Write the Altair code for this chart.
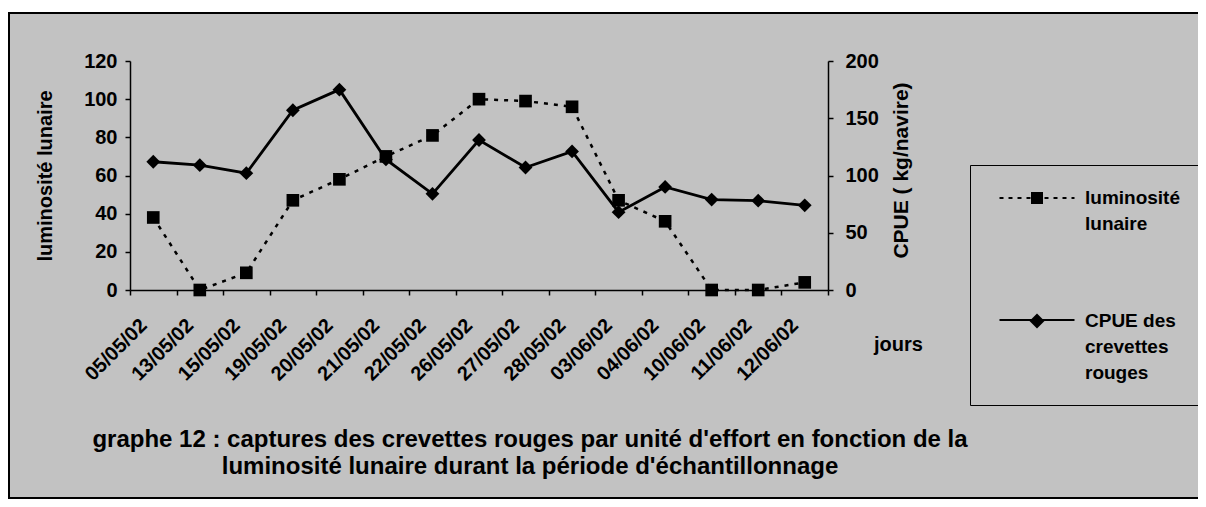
import altair as alt
import pandas as pd

# ---------------- data ----------------
jours = ["05/05/02", "13/05/02", "15/05/02", "19/05/02", "20/05/02", "21/05/02",
         "22/05/02", "26/05/02", "27/05/02", "28/05/02", "03/06/02", "04/06/02",
         "10/06/02", "11/06/02", "12/06/02"]
luminosite = [38, 0, 9, 47, 58, 70, 81, 100, 99, 96, 47, 36, 0, 0, 4]
cpue = [112, 109, 102, 157, 175, 114, 84, 131, 107, 121, 68, 90, 79, 78, 74]
series = ["luminosité   |lunaire", "CPUE des|crevettes|rouges"]
series_l = ["luminosité   |lunaire ", "CPUE des|crevettes|rouges "]
lum_ticks = [0, 20, 40, 60, 80, 100, 120]
cpue_ticks = [0, 50, 100, 150, 200]

title_lines = ["graphe 12 : captures des crevettes rouges par unité d'effort  en fonction de la",
               "luminosité lunaire durant la période d'échantillonnage"]

df_lum = pd.DataFrame({"jour": jours, "val": luminosite})
df_cpue = pd.DataFrame({"jour": jours, "val": cpue})
df_leg = pd.DataFrame({"jour": jours[:2], "serie": series, "serie_l": series_l, "val": [0, 0]})

FONT = "Liberation Sans"
BG = "#c2c2c2"
W, H = 698, 229

# custom legend symbols
path_lum = "M-0.6,-0.6H0.6V0.6H-0.6Z"
path_cpue = "M0,-0.75L0.75,0L0,0.75L-0.75,0Z"
path_line = "M-3.75,0H3.75"

x_enc = alt.X(
    "jour:N", sort=jours,
    scale=alt.Scale(type="band", paddingInner=0, paddingOuter=0),
    axis=alt.Axis(
        title="jours", titleX=768, titleY=54, titleAlign="center", titleBaseline="middle",
        titleAngle=0, titleFont=FONT, titleFontSize=20, titleFontWeight="bold", titleColor="black",
        labelAngle=-45, labelAlign="right", labelBaseline="middle",
        labelPadding=27, labelOffset=-10, labelFont=FONT, labelFontSize=20,
        labelFontWeight="bold", labelColor="black", labelOverlap=False,
        tickBand="extent", tickSize=5, tickColor="black", tickWidth=1.5,
        domainColor="black", domainWidth=1.5, grid=False, zindex=1,
    ),
)

# frame (decoration)
frame = alt.Chart(pd.DataFrame({"a": [0]})).mark_rect(
    fill=BG, stroke="black", strokeWidth=2
).encode(x=alt.value(-121), x2=alt.value(1100), y=alt.value(-48), y2=alt.value(437))

y_lum = alt.Y(
    "val:Q", scale=alt.Scale(domain=[0, 120], nice=False),
    axis=alt.Axis(
        orient="left", values=lum_ticks, title="luminosité lunaire",
        titleFont=FONT, titleFontSize=20, titleFontWeight="bold", titleColor="black",
        titlePadding=28, labelFont=FONT, labelFontSize=20, labelFontWeight="bold",
        labelColor="black", labelPadding=8, tickSize=5, tickColor="black", tickWidth=1.5,
        domainColor="black", domainWidth=1.5, grid=False, zindex=1,
    ),
)
y_cpue = alt.Y(
    "val:Q", scale=alt.Scale(domain=[0, 200], nice=False),
    axis=alt.Axis(
        orient="right", values=cpue_ticks, title="CPUE ( kg/navire)", titleAngle=-90,
        titleBaseline="top", titleY=109,
        titleFont=FONT, titleFontSize=21, titleFontWeight="bold", titleColor="black",
        titlePadding=12, labelFont=FONT, labelFontSize=20, labelFontWeight="bold",
        labelColor="black", labelPadding=12, tickSize=5, tickColor="black", tickWidth=1.5,
        domainColor="black", domainWidth=1.5, grid=False, zindex=1,
    ),
)

lum_line = alt.Chart(df_lum).mark_line(color="black", strokeWidth=2.5, strokeDash=[4, 6]).encode(x=x_enc, y=y_lum)
lum_pts = alt.Chart(df_lum).mark_point(shape="square", filled=True, color="black", size=160, opacity=1).encode(x=x_enc, y=y_lum)
cpue_line = alt.Chart(df_cpue).mark_line(color="black", strokeWidth=2.8).encode(x=x_enc, y=y_cpue)
cpue_pts = alt.Chart(df_cpue).mark_point(shape="diamond", filled=True, color="black", size=190, opacity=1).encode(x=x_enc, y=y_cpue)

common_leg = dict(
    title=None, orient="none", legendX=840, legendY=104, direction="vertical",
    padding=22, rowPadding=75, symbolSize=400, symbolOffset=34, symbolStrokeWidth=2,
    symbolOpacity=1, labelOffset=37, labelExpr="split(datum.label, '|')",
    labelBaseline="middle", labelFont=FONT, labelFontSize=19, labelFontWeight="bold",
    labelLimit=400,
)
# legend A: markers + labels + box
leg_markers = alt.Legend(strokeColor="black", labelColor="black",
                         symbolFillColor="black", symbolStrokeColor="black", **common_leg)
# legend B: line segments (dashed / solid), labels invisible
leg_lines = alt.Legend(labelColor="transparent", symbolStrokeColor="black", **common_leg)

carrier_markers = alt.Chart(df_leg).mark_point(
    filled=True, color="black", opacity=0, size=400
).encode(
    x=x_enc,
    y=alt.Y("val:Q", axis=None),
    shape=alt.Shape("serie:N", sort=series,
                    scale=alt.Scale(domain=series, range=[path_lum, path_cpue]), legend=leg_markers),
)
carrier_lines = alt.Chart(df_leg).mark_point(
    filled=False, color="black", strokeWidth=2, opacity=0, size=400, shape=path_line
).encode(
    x=x_enc,
    y=alt.Y("val:Q", axis=None),
    strokeDash=alt.StrokeDash("serie_l:N", sort=series_l,
                              scale=alt.Scale(domain=series_l, range=[[4, 5], [1, 0]]), legend=leg_lines),
)

chart = alt.layer(
    frame,
    alt.layer(lum_line, lum_pts),
    alt.layer(cpue_line, cpue_pts),
    carrier_lines,
    carrier_markers,
).resolve_scale(y="independent").properties(
    width=W, height=H,
    padding={"left": 122, "top": 53, "right": 370, "bottom": 209},
    autosize=alt.AutoSizeParams(type="none"),
    background="white",
    title=alt.TitleParams(
        text=title_lines, orient="bottom", anchor="middle", frame="group", dx=51, offset=-71,
        baseline="top",
        font=FONT, fontSize=24, fontWeight="bold", color="black", lineHeight=27,
    ),
).configure_view(stroke=None).configure(
    style={"guide-label": {"lineHeight": 26}}
)

chart.save("out.html", embed_options={"renderer": "svg", "actions": False})
